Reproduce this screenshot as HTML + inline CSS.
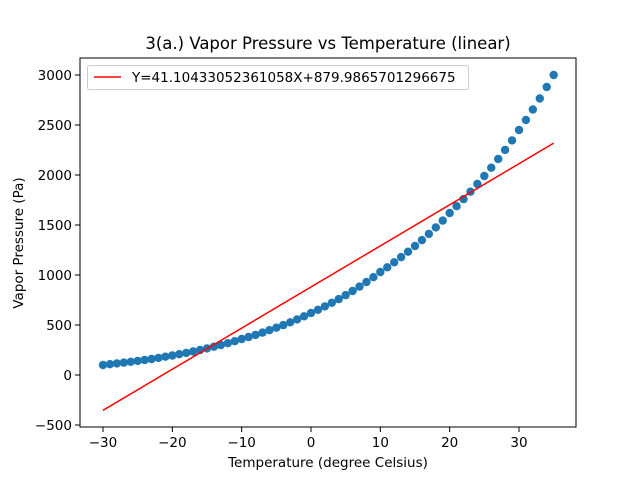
<!DOCTYPE html>
<html><head><meta charset="utf-8"><style>
body{margin:0;background:#fff}
svg{font-family:"DejaVu Sans","Liberation Sans",sans-serif}
</style></head><body>
<svg id="chart" width="640" height="480">
<rect width="640" height="480" fill="#fff"/>
<g id="plot"></g>
</svg>
<script>
const temps = [];
for (let t = -30; t <= 35; t++) temps.push(t);
const pressures = [100,108,116,124,132,141,150,160,171,183,195,
208,221,235,250,266,283,300,318,338,360,
380,401,424,448,473,499,527,556,587,620,
652,686,722,759,799,840,884,930,978,1030,
1077,1127,1179,1233,1290,1349,1411,1476,1544,1620,
1688,1759,1833,1910,1990,2073,2160,2251,2346,2450,
2550,2655,2765,2880,3000];
const slope = 41.10433052361058, intercept = 879.9865701296675;
const fitX = [-30, 35];
const xTicks = [-30,-20,-10,0,10,20,30];
const yTicks = [-500,0,500,1000,1500,2000,2500,3000];

const NS="http://www.w3.org/2000/svg";
const g=document.getElementById('plot');
const sx=v=>311+v*6.933;
const sy=v=>375-v*0.1;
function el(tag,attrs,text){const e=document.createElementNS(NS,tag);for(const k in attrs)e.setAttribute(k,attrs[k]);if(text!==undefined)e.textContent=text;g.appendChild(e);return e;}

temps.forEach((t,i)=>{
  const c=el('circle',{cx:sx(t),cy:sy(pressures[i]),r:4.2,fill:'#1f77b4'});
  
  
});
const ln=el('line',{x1:sx(fitX[0]),y1:sy(slope*fitX[0]+intercept),x2:sx(fitX[1]),y2:sy(slope*fitX[1]+intercept),stroke:'red','stroke-width':1.5});


const fr=el('rect',{x:80,y:58,width:496,height:369,fill:'none',stroke:'#000','stroke-width':1});


xTicks.forEach(v=>{
  const x=sx(v);
  el('line',{x1:x,y1:427,x2:x,y2:432,stroke:'#000'});
  const t=el('text',{x:x,y:447,'font-size':13.5,'text-anchor':'middle'},v<0?'\u2212'+(-v):String(v));
  
  
});
yTicks.forEach(v=>{
  const y=sy(v);
  el('line',{x1:75,y1:y,x2:80,y2:y,stroke:'#000'});
  const t=el('text',{x:72,y:y+5,'font-size':13.5,'text-anchor':'end'},v<0?'\u2212'+(-v):String(v));
  
  
});
</script>
<svg width="640" height="480" style="position:absolute;left:0;top:0" font-family="DejaVu Sans, Liberation Sans, sans-serif">
<text x="328" y="49" font-size="16.5" text-anchor="middle">3(a.) Vapor Pressure vs Temperature (linear)</text>
<text x="328" y="467" font-size="13.5" text-anchor="middle">Temperature (degree Celsius)</text>
<text x="0" y="0" font-size="13.5" text-anchor="middle" transform="translate(23,243) rotate(-90)">Vapor Pressure (Pa)</text>
<g>
<rect x="87.5" y="65.5" width="381" height="24" rx="2" fill="#fff" fill-opacity="0.8" stroke="#ccc"/>
<line x1="94" y1="77" x2="121" y2="77" stroke="red" stroke-width="1.5"/>
<text x="132" y="82" font-size="13.5">Y=41.10433052361058X+879.9865701296675</text>
</g>
</svg>
</body></html>
